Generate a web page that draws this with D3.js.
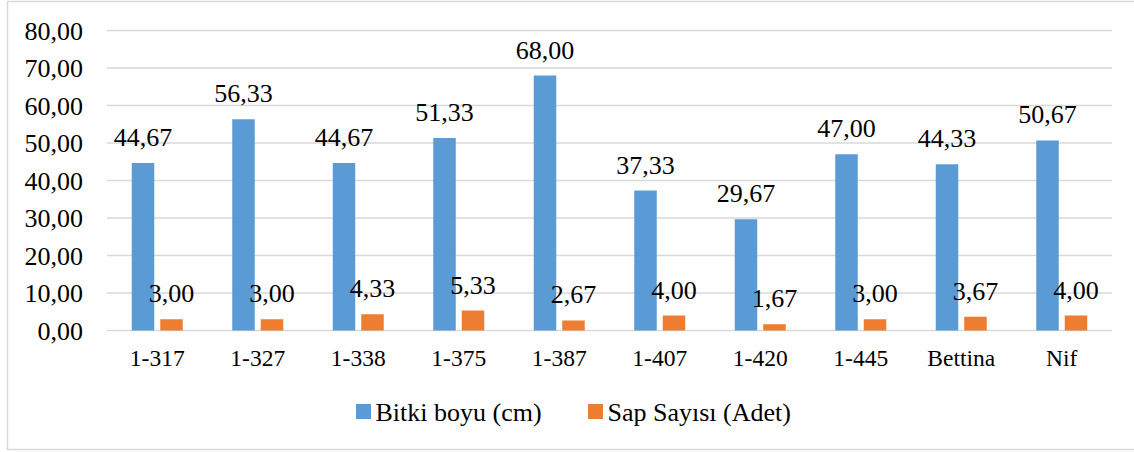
<!DOCTYPE html>
<html>
<head>
<meta charset="utf-8">
<script src="https://cdn.jsdelivr.net/npm/d3@7"></script>
<style>
  html, body { margin: 0; padding: 0; background: #fff; }
  svg { display: block; }
</style>
</head>
<body>
<svg id="chart" width="1134" height="452"></svg>
<script>
// Genotype / cultivar names along the x axis
const categories = ["1-317", "1-327", "1-338", "1-375", "1-387", "1-407", "1-420", "1-445", "Bettina", "Nif"];
// Plant height (cm)
const bitkiBoyu = [44.67, 56.33, 44.67, 51.33, 68.00, 37.33, 29.67, 47.00, 44.33, 50.67];
// Number of stems (pieces)
const sapSayisi = [3.00, 3.00, 4.33, 5.33, 2.67, 4.00, 1.67, 3.00, 3.67, 4.00];
const seriesNames = ["Bitki boyu (cm)", "Sap Sayısı (Adet)"];
const seriesColors = ["#5B9BD5", "#ED7D31"];
const yTicks = [0, 10, 20, 30, 40, 50, 60, 70, 80];

const FONT = "Liberation Serif";
const FS = "26px";      // value labels, y ticks, legend
const FS_X = "23.5px";  // category labels

const svg = d3.select("#chart");
const W = 1134, H = 452;

// outer frame
svg.append("rect")
  .attr("x", 7.5).attr("y", 1.5)
  .attr("width", W + 10).attr("height", 448)
  .attr("fill", "none").attr("stroke", "#D9D9D9").attr("stroke-width", 1.5);

const plot = { left: 107, right: 1112, top: 30.5, bottom: 330.5 };

const x = d3.scaleBand().domain(categories).range([plot.left, plot.right]).paddingInner(0).paddingOuter(0);
const y = d3.scaleLinear().domain([0, 80]).range([plot.bottom, plot.top]);

const fmt = v => d3.format(".2f")(v).replace(".", ",");

// gridlines
svg.append("g").selectAll("line").data(yTicks).join("line")
  .attr("x1", plot.left).attr("x2", plot.right)
  .attr("y1", d => y(d)).attr("y2", d => y(d))
  .attr("stroke", "#D9D9D9").attr("stroke-width", 1.5);

// y axis labels
const yAxis = d3.axisLeft(y).tickValues(yTicks).tickFormat(fmt).tickSize(0).tickPadding(0);
svg.append("g")
  .attr("transform", `translate(${plot.left - 24},0)`)
  .call(yAxis)
  .attr("font-family", null).attr("font-size", null)
  .call(g => g.select(".domain").remove())
  .call(g => g.selectAll("text")
    .style("font-family", FONT)
    .style("font-size", FS).attr("fill", "#000").attr("dy", "0.33em"));

// x axis labels
const xAxis = d3.axisBottom(x).tickSize(0).tickPadding(0);
svg.append("g")
  .attr("transform", `translate(0,${plot.bottom})`)
  .call(xAxis)
  .attr("font-family", null).attr("font-size", null)
  .call(g => g.select(".domain").remove())
  .call(g => g.selectAll("text")
    .style("font-family", FONT)
    .style("font-size", FS_X).attr("fill", "#000").attr("y", 35.5).attr("dy", 0));

const barW = 22.5, gap = 6;
const rows = categories.map((c, i) => ({ c, vals: [bitkiBoyu[i], sapSayisi[i]] }));

const groups = svg.append("g").selectAll("g").data(rows).join("g")
  .attr("transform", d => `translate(${x(d.c) + x.bandwidth() / 2},0)`);

seriesNames.forEach((name, s) => {
  const off = s === 0 ? -gap / 2 - barW : gap / 2;
  groups.append("rect")
    .attr("x", off)
    .attr("y", d => y(d.vals[s]))
    .attr("width", barW)
    .attr("height", d => y(0) - y(d.vals[s]))
    .attr("fill", seriesColors[s]);
  groups.append("text")
    .attr("x", off + barW / 2)
    .attr("y", d => y(d.vals[s]) - 17)
    .attr("text-anchor", "middle")
    .style("font-family", FONT)
    .style("font-size", FS)
    .attr("fill", "#000")
    .text(d => fmt(d.vals[s]));
});

// legend
const legend = svg.append("g");
const legendItems = [{ x: 356, name: seriesNames[0], color: seriesColors[0] },
                     { x: 588, name: seriesNames[1], color: seriesColors[1] }];
legendItems.forEach(it => {
  legend.append("rect").attr("x", it.x).attr("y", 404).attr("width", 15).attr("height", 15).attr("fill", it.color);
  legend.append("text").attr("x", it.x + 19.5).attr("y", 421)
    .style("font-family", FONT).style("font-size", FS).attr("fill", "#000").text(it.name);
});
</script>
</body>
</html>
